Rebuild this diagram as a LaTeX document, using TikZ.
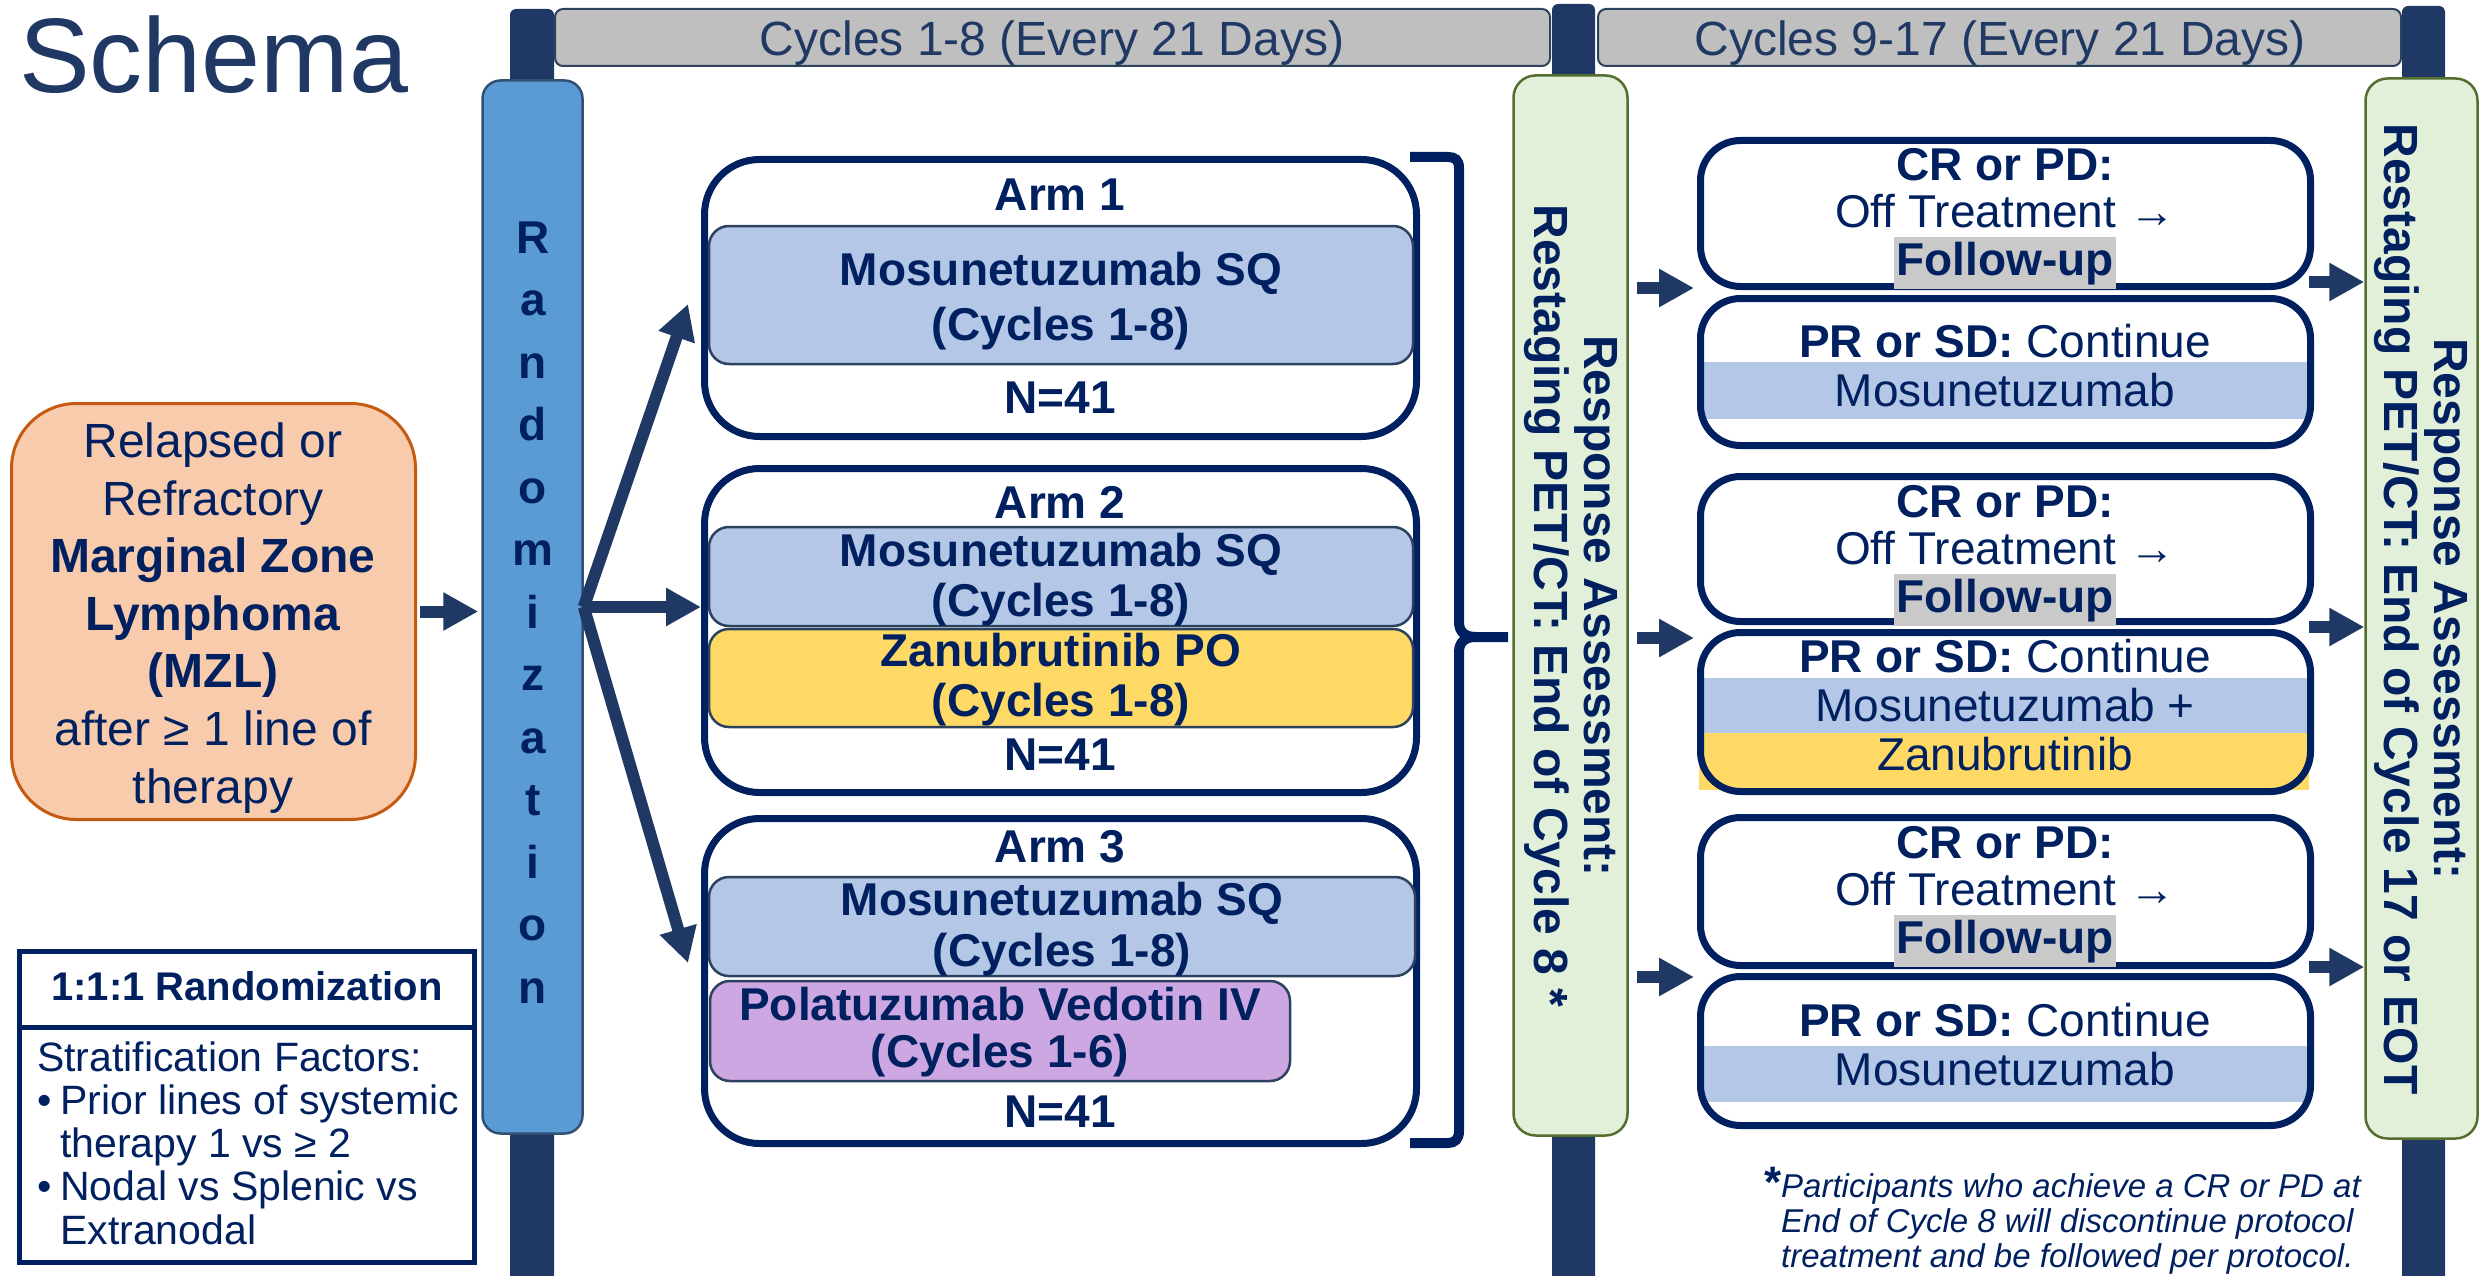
\documentclass[tikz,border=0pt]{standalone}
\usepackage{fontspec}
\setmainfont{Liberation Sans}
\newfontfamily\arrfont{Liberation Serif}
\usetikzlibrary{arrows.meta}
\definecolor{navy}{RGB}{0,32,96}
\definecolor{dnavy}{RGB}{31,56,100}
\definecolor{boxedge}{RGB}{44,66,94}
\definecolor{mosblue}{RGB}{180,199,231}
\definecolor{zanyel}{RGB}{255,217,102}
\definecolor{polap}{RGB}{204,167,226}
\definecolor{grnfill}{RGB}{226,240,217}
\definecolor{grnedge}{RGB}{84,110,48}
\definecolor{orfill}{RGB}{248,203,173}
\definecolor{oredge}{RGB}{197,90,17}
\definecolor{randblue}{RGB}{91,155,213}
\definecolor{randedge}{RGB}{50,80,115}
\definecolor{barg}{RGB}{191,191,191}
\definecolor{hlgray}{RGB}{201,201,201}
\newcommand\myfs[2]{\fontsize{#1pt}{#2pt}\selectfont}
\newcommand\hlfu[1]{{\setlength{\fboxsep}{0pt}\colorbox{hlgray}{\rule[-14pt]{0pt}{52pt}\hspace{2pt}#1\hspace{2pt}}}}
\newcommand\offtr{Off Treatment {\arrfont →}}
\begin{document}
\begin{tikzpicture}[x=1pt,y=-1pt,
  armbox/.style={draw=navy, fill=white, line width=7pt, rounded corners=55pt, inner sep=0pt},
  inbox/.style={draw=boxedge, line width=2.5pt, rounded corners=20pt, inner sep=0pt},
  outbox/.style={draw=navy, line width=7pt, rounded corners=40pt, inner sep=0pt},
  greenbox/.style={draw=grnedge, fill=grnfill, line width=2.5pt, rounded corners=22pt, inner sep=0pt},
  post/.style={fill=dnavy, rounded corners=6pt},
  bar/.style={draw=boxedge, fill=barg, line width=2pt, rounded corners=8pt, inner sep=0pt},
  txt/.style={text=navy, inner sep=0pt, align=center, anchor=base},
  arr/.style={draw=dnavy, line width=12pt, line join=round, -{Triangle[length=35pt,width=36pt]}},
]
\useasboundingbox (0,0) rectangle (2486,1276);
% timeline posts
\fill[post] (510,9) rectangle (554,1290);
\fill[post] (1552,4) rectangle (1595,1290);
\fill[post] (2402,6) rectangle (2445,1290);
% cycle bars
\node[bar, minimum width=995pt, minimum height=57pt] (bar1) at (1052.5,37.5) {};
\node[txt, text=dnavy, font=\myfs{48}{52}] (bar1t) at (1052,56) {Cycles 1-8 (Every 21 Days)};
\node[bar, minimum width=803pt, minimum height=57pt] (bar2) at (1999.5,37.5) {};
\node[txt, text=dnavy, font=\myfs{48}{52}] (bar2t) at (2000,56) {Cycles 9-17 (Every 21 Days)};
% title
\node[txt, anchor=base west, text=dnavy, font=\myfs{106}{110}] (title) at (19,93) {Schema};
% randomization
\node[draw=randedge, fill=randblue, line width=2.5pt, rounded corners=18pt, minimum width=100pt, minimum height=1053pt, inner sep=0pt] (rand) at (532.5,607) {};
\node[txt, font=\myfs{46}{62.5}\bfseries] (randt) at (533,1003) {R\\a\\n\\d\\o\\m\\i\\z\\a\\t\\i\\o\\n};
% population
\node[draw=oredge, fill=orfill, line width=3pt, rounded corners=65pt, minimum width=404pt, minimum height=416pt, inner sep=0pt] (pop) at (213.5,611.5) {};
\node[txt, font=\myfs{48}{57.6}] (popt) at (213,803) {Relapsed or\\Refractory\\\textbf{Marginal Zone}\\\textbf{Lymphoma}\\\textbf{(MZL)}\\after ≥ 1 line of\\therapy};
% stratification
\node[draw=navy, fill=white, line width=5pt, minimum width=455pt, minimum height=311pt, inner sep=0pt] (strat) at (247,1107) {};
\coordinate (sdiv) at (0,1027);
\draw[navy, line width=5pt] (strat.west |- sdiv) -- (strat.east |- sdiv);
\node[txt, font=\myfs{40}{44}\bfseries] (stratt) at (247,1000) {1:1:1 Randomization};
\node[txt, anchor=base west, align=left, font=\myfs{41}{43.25}] (strats) at (37,1244) {Stratification Factors:\\\makebox[23pt][l]{•}Prior lines of systemic\\\hspace*{23pt}therapy 1 vs ≥ 2\\\makebox[23pt][l]{•}Nodal vs Splenic vs\\\hspace*{23pt}Extranodal};
% arm 1
\node[armbox, minimum width=712pt, minimum height=277pt] (arm1) at (1060.5,298) {};
\node[inbox, fill=mosblue, minimum width=704pt, minimum height=138pt] (mos1) at (1061,295) {};
\node[txt, font=\myfs{46}{55}\bfseries] (arm1t) at (1060,211) {Arm 1};
\node[txt, font=\myfs{46}{55}\bfseries] (mos1t) at (1061,340) {Mosunetuzumab SQ\\(Cycles 1-8)};
\node[txt, font=\myfs{46}{55}\bfseries] (n1) at (1060,413) {N=41};
% arm 2
\node[armbox, minimum width=712pt, minimum height=324pt] (arm2) at (1060.5,630.5) {};
\node[inbox, fill=mosblue, minimum width=704pt, minimum height=99pt] (mos2) at (1061,576.5) {};
\node[inbox, fill=zanyel, minimum width=704pt, minimum height=98pt] (zan2) at (1061,678) {};
\node[txt, font=\myfs{46}{55}\bfseries] (arm2t) at (1060,518) {Arm 2};
\node[txt, font=\myfs{46}{50}\bfseries] (mos2t) at (1061,616) {Mosunetuzumab SQ\\(Cycles 1-8)};
\node[txt, font=\myfs{46}{50}\bfseries] (zan2t) at (1061,716) {Zanubrutinib PO\\(Cycles 1-8)};
\node[txt, font=\myfs{46}{55}\bfseries] (n2) at (1060,770) {N=41};
% arm 3
\node[armbox, minimum width=712pt, minimum height=325pt] (arm3) at (1060.5,981) {};
\node[inbox, fill=mosblue, minimum width=706pt, minimum height=99pt] (mos3) at (1062,926.5) {};
\node[inbox, fill=polap, minimum width=580pt, minimum height=100pt] (pol3) at (1000,1031) {};
\node[txt, font=\myfs{46}{55}\bfseries] (arm3t) at (1060,862) {Arm 3};
\node[txt, font=\myfs{46}{51}\bfseries] (mos3t) at (1062,966) {Mosunetuzumab SQ\\(Cycles 1-8)};
\node[txt, font=\myfs{46}{47}\bfseries] (pol3t) at (1000,1067) {Polatuzumab Vedotin IV\\(Cycles 1-6)};
\node[txt, font=\myfs{46}{55}\bfseries] (n3) at (1060,1127) {N=41};
% brace
\draw[navy, line width=10pt] (1410,157) -- (1448,157) .. controls (1455,157) and (1459,160) .. (1459,168) -- (1459,622) .. controls (1459,632) and (1465,637) .. (1476,637) -- (1508,637);
\draw[navy, line width=10pt] (1476,637) .. controls (1465,637) and (1459,642) .. (1459,652) -- (1459,1131) .. controls (1459,1139) and (1455,1143) .. (1448,1143) -- (1410,1143);
% response assessment columns
\node[greenbox, minimum width=114pt, minimum height=1060pt] (g1) at (1570.5,605.5) {};
\node[txt, anchor=center, rotate=-90, font=\myfs{48}{50}\bfseries] (g1t) at (1571,606) {Response Assessment:\\Restaging PET/CT: End of Cycle 8 *};
\node[greenbox, minimum width=112pt, minimum height=1060pt] (g2) at (2421.5,608.5) {};
\node[txt, anchor=center, rotate=-90, font=\myfs{48}{50}\bfseries] (g2t) at (2421,609) {Response Assessment:\\Restaging PET/CT: End of Cycle 17 or EOT};
% outcome bands
\fill[mosblue] (1701,362) rectangle (2307,419);
\fill[mosblue] (1699,678) rectangle (2309,733);
\fill[zanyel] (1699,733) rectangle (2309,790);
\fill[mosblue] (1701,1046) rectangle (2307,1102);
% outcome boxes
\node[outbox, minimum width=610pt, minimum height=146pt] (A1) at (2005.5,213.5) {};
\node[outbox, minimum width=610pt, minimum height=147pt] (B1) at (2005.5,372) {};
\node[outbox, minimum width=610pt, minimum height=145pt] (A2) at (2005.5,549) {};
\node[outbox, minimum width=610pt, minimum height=159pt] (B2) at (2005.5,712) {};
\node[outbox, minimum width=610pt, minimum height=148pt] (A3) at (2005.5,891.5) {};
\node[outbox, minimum width=610pt, minimum height=149pt] (B3) at (2005.5,1051) {};
\node[txt, font=\myfs{46}{47.5}] (A1t) at (2005,275) {\textbf{CR or PD:}\\\offtr\\\hlfu{\textbf{Follow-up}}};
\node[txt, font=\myfs{46}{47.5}] (A2t) at (2005,612) {\textbf{CR or PD:}\\\offtr\\\hlfu{\textbf{Follow-up}}};
\node[txt, font=\myfs{46}{47.5}] (A3t) at (2005,953) {\textbf{CR or PD:}\\\offtr\\\hlfu{\textbf{Follow-up}}};
\node[txt, font=\myfs{46}{49}] (B1t) at (2005,406) {\textbf{PR or SD:} Continue\\Mosunetuzumab};
\node[txt, font=\myfs{46}{49}] (B2t) at (2005,770) {\textbf{PR or SD:} Continue\\Mosunetuzumab +\\Zanubrutinib};
\node[txt, font=\myfs{46}{49}] (B3t) at (2005,1085) {\textbf{PR or SD:} Continue\\Mosunetuzumab};
% arrows
\draw[arr] ([xshift=3pt]pop.east) -- ([xshift=-3pt]pop.east -| rand.west);
\coordinate (t1) at (688,304);
\coordinate (t3) at (688,963);
\draw[arr] (rand.east) -- (t1);
\draw[arr] (rand.east) -- (rand.east -| arm2.west);
\draw[arr] (rand.east) -- (t3);
\coordinate (p1) at (1694,288);
\coordinate (p2) at (1694,638);
\coordinate (p3) at (1694,977);
\draw[arr] ([xshift=8pt]g1.east |- p1) -- (p1);
\draw[arr] ([xshift=8pt]g1.east |- p2) -- (p2);
\draw[arr] ([xshift=8pt]g1.east |- p3) -- (p3);
\coordinate (q1) at (2309,282);
\coordinate (q2) at (2309,627);
\coordinate (q3) at (2309,967);
\draw[arr] (q1) -- (q1 -| g2.west);
\draw[arr] (q2) -- (q2 -| g2.west);
\draw[arr] (q3) -- (q3 -| g2.west);
% footnote
\node[txt, anchor=base west, align=left, font=\myfs{33}{35}\itshape] (foot) at (1781,1267) {\llap{\myfs{44}{44}\upshape\bfseries *}Participants who achieve a CR or PD at\\End of Cycle 8 will discontinue protocol\\treatment and be followed per protocol.};
\end{tikzpicture}
\end{document}
